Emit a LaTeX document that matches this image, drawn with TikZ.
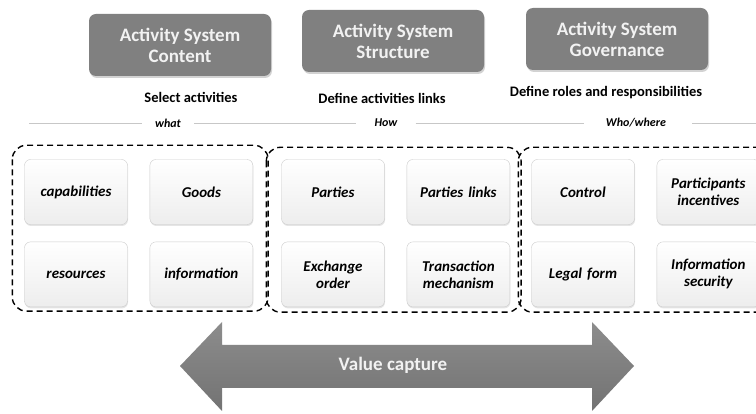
\documentclass[tikz,border=0pt]{standalone}
\usepackage{fontspec}
\setmainfont{Carlito}
\usetikzlibrary{calc,positioning,shadows}

\begin{document}
\begin{tikzpicture}[x=1pt,y=-1pt,
  head/.style={rounded corners=7pt,fill=black!50,drop shadow={opacity=0.35,shadow xshift=1pt,shadow yshift=-2pt},
    minimum width=182pt,minimum height=62pt,text=black!5,align=center,font=\fontsize{19}{21}\selectfont\bfseries},
  item/.style={rounded corners=6pt,draw=black!20,top color=white,bottom color=black!7,
    drop shadow={opacity=0.2,shadow xshift=0.5pt,shadow yshift=-1.5pt},
    minimum width=103pt,minimum height=65pt,text width=94pt,align=center,font=\fontsize{15}{17}\selectfont\bfseries\itshape},
  task/.style={font=\fontsize{14.5}{16}\selectfont\bfseries},
  tag/.style={font=\fontsize{12}{14}\selectfont\bfseries\itshape,inner sep=0pt},
  group/.style={line width=1.4pt,rounded corners=14pt,dash pattern=on 6pt off 4pt},
  rule/.style={black!22,line width=0.8pt}]
\fill[white] (0,0) rectangle (756,414);
\clip (0,0) rectangle (756,414);

% top boxes
\node[head] (content) at (180,45) {Activity System\\Content};
\node[head] (structure) at (393,41) {Activity System\\Structure};
\node[head] (governance) at (617,39) {Activity System\\Governance};

\node[task] (select) at (191,97) {Select activities};
\node[task] (define) at (382,98) {Define activities links};
\node[task] (roles) at (606,93) {Define roles and responsibilities};

% what / how / who
\node[tag] (what) at (168,123) {what};
\node[tag] (how) at (386,123) {How};
\node[tag] (who) at (636,123) {Who/where};
\coordinate (lstart) at (29,123);
\coordinate (lend) at (760,123);
\draw[rule] (lstart) -- ($(what.west)+(-13,0)$);
\draw[rule] ($(what.east)+(13,0)$) -- ($(how.west)+(-18,0)$);
\draw[rule] ($(how.east)+(18,0)$) -- ($(who.west)+(-22,0)$);
\draw[rule] ($(who.east)+(26,0)$) -- (lend);

% content
\node[item] (capab) at (76,192) {capabilities};
\node[item,right=22pt of capab] (goods) {Goods};
\node[item,below=17pt of capab] (resour) {resources};
\node[item,right=22pt of resour] (info) {information};
\draw[group] ($(capab.north west)+(-12,-14)$) rectangle ($(info.south east)+(15,4)$);

% structure
\node[item] (parties) at (333,192) {Parties};
\node[item,right=22pt of parties] (plinks) {Parties links};
\node[item,below=17pt of parties] (order) {Exchange\\order};
\node[item,right=22pt of order] (mech) {Transaction\\mechanism};
\draw[group] ($(parties.north west)+(-15,-12)$) rectangle ($(mech.south east)+(11,5)$);

% governance
\node[item] (control) at (583,192) {Control};
\node[item,right=22pt of control] (incent) {Participants\\incentives};
\node[item,below=17pt of control] (legal) {Legal form};
\node[item,right=22pt of legal] (secur) {Information\\security};
\draw[group] ($(control.north west)+(-13,-12)$) rectangle ($(secur.south east)+(10,5)$);

% value capture
\shade[top color=black!45,bottom color=black!55] (180,366) -- (222,322) -- (222,345) -- (592,345) -- (592,322)
  -- (634,366) -- (592,411) -- (592,388) -- (222,388) -- (222,411) -- cycle;
\node[font=\fontsize{19}{21}\selectfont\bfseries,text=black!5] (capture) at (393,365) {Value capture};
\end{tikzpicture}
\end{document}
